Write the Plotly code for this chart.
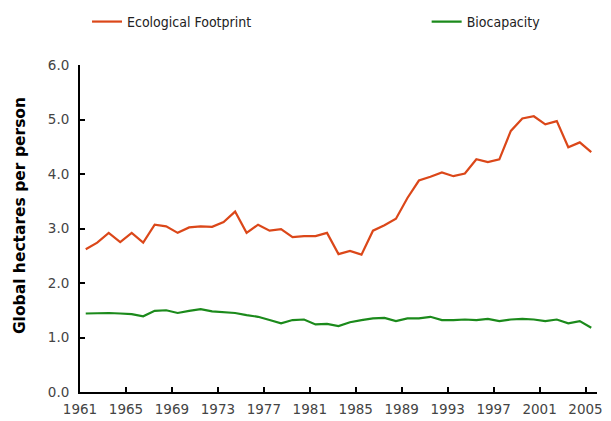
import plotly.graph_objects as go

years = list(range(1961, 2006))
footprint = [2.62, 2.74, 2.92, 2.75, 2.92, 2.74, 3.07, 3.04, 2.92, 3.02,
             3.04, 3.03, 3.12, 3.31, 2.92, 3.07, 2.96, 2.99, 2.84, 2.86,
             2.86, 2.92, 2.53, 2.59, 2.52, 2.96, 3.06, 3.18, 3.56, 3.88,
             3.95, 4.03, 3.96, 4.01, 4.27, 4.22, 4.27, 4.79, 5.02, 5.06,
             4.91, 4.97, 4.49, 4.58, 4.40]
biocapacity = [1.44, 1.45, 1.45, 1.44, 1.43, 1.39, 1.49, 1.50, 1.45, 1.49,
               1.52, 1.48, 1.46, 1.45, 1.41, 1.38, 1.32, 1.26, 1.32, 1.33,
               1.24, 1.25, 1.21, 1.28, 1.32, 1.35, 1.36, 1.30, 1.35, 1.35,
               1.38, 1.32, 1.32, 1.33, 1.32, 1.34, 1.30, 1.33, 1.34, 1.33,
               1.30, 1.33, 1.26, 1.30, 1.18]
label_years = [1961, 1965, 1969, 1973, 1977, 1981, 1985, 1989, 1993, 1997, 2001, 2005]
y_ticks = [0, 1, 2, 3, 4, 5, 6]
y_title = "Global hectares per person"

fig = go.Figure()
fig.add_trace(go.Scatter(x=years, y=footprint, mode="lines", name="Ecological Footprint",
                         line=dict(color="#db4719", width=2.2), legend="legend"))
fig.add_trace(go.Scatter(x=years, y=biocapacity, mode="lines", name="Biocapacity",
                         line=dict(color="#1b8a1b", width=2.2), legend="legend2"))

legend_font = dict(family="DejaVu Sans Condensed, Liberation Sans", size=14, color="#222")
tick_font = dict(family="DejaVu Sans", size=13.5, color="#444")
fig.update_layout(
    # page body has an 8px margin, so the figure is sized/offset to compensate
    width=603, height=413,
    margin=dict(l=72, r=13.5, t=57, b=29.3, autoexpand=False),
    paper_bgcolor="white", plot_bgcolor="white",
    showlegend=True,
    legend=dict(x=0.0136, y=1.1316, xanchor="left", yanchor="middle", font=legend_font,
                bgcolor="rgba(0,0,0,0)", itemwidth=30),
    legend2=dict(x=0.6705, y=1.1316, xanchor="left", yanchor="middle", font=legend_font,
                 bgcolor="rgba(0,0,0,0)", itemwidth=30),
    xaxis=dict(range=[1960.5, 2005.5], tickvals=[y - 0.5 for y in label_years],
               ticktext=[str(y) for y in label_years], ticks="inside", ticklen=5,
               tickwidth=2, tickcolor="black", showline=True, linecolor="black",
               linewidth=2, showgrid=False, zeroline=False, automargin=False,
               ticklabelstandoff=4, tickfont=tick_font),
    yaxis=dict(range=[0, 6], tickvals=y_ticks, tickformat=".1f", ticks="inside",
               ticklen=5, tickwidth=2, tickcolor="black", showline=True,
               linecolor="black", linewidth=2, showgrid=False, zeroline=False,
               ticklabelstandoff=6, automargin=False, tickfont=tick_font),
    annotations=[dict(text=y_title, xref="paper", yref="paper", x=-0.116, y=0.538,
                      xanchor="center", yanchor="middle", textangle=-90, showarrow=False,
                      font=dict(family="DejaVu Sans", size=15.5, color="black", weight="bold"))],
)
fig.write_html("out.html")
